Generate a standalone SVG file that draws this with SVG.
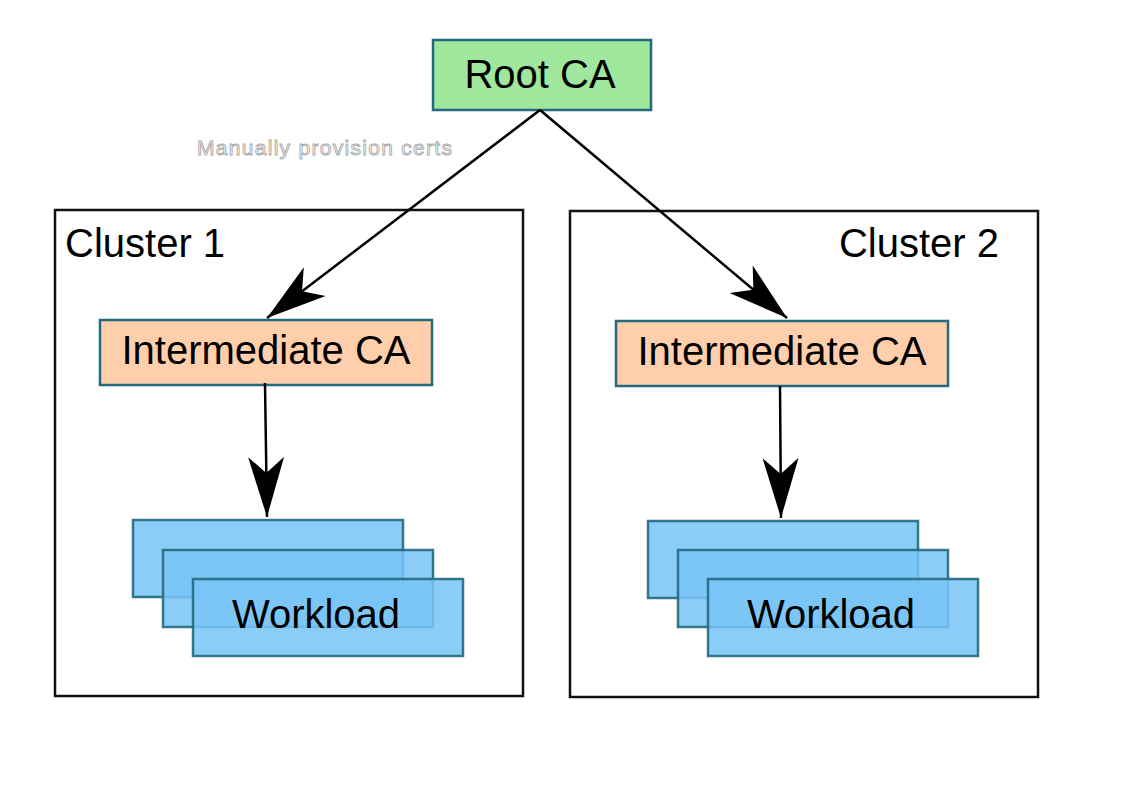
<svg xmlns="http://www.w3.org/2000/svg" width="1123" height="794" viewBox="0 0 1123 794">
  <style>
    .lbl { font-family: "Liberation Sans", Arial, sans-serif; font-size: 40px; fill: #000; }
    .cluster { fill: none; stroke: #111; stroke-width: 2.5; }
    .node { stroke: #23697f; stroke-width: 2.5; }
    .root { fill: #9fe79c; }
    .inter { fill: #ffcfab; }
    .work { fill: #78c4f7; fill-opacity: 0.85; stroke-opacity: 0.9; }
    .edge { fill: none; stroke: #000; stroke-width: 2.5; }
    .note { font-family: "Liberation Sans", Arial, sans-serif; font-size: 21px; fill: #fff; stroke: #a8a8a8; stroke-width: 0.9; }
  </style>
  <defs>
    <marker id="arrow" viewBox="-62 -20 64 40" markerWidth="64" markerHeight="40" refX="0" refY="0" orient="auto" markerUnits="userSpaceOnUse">
      <path d="M0,0 L-60,-18 L-44,0 L-60,18 Z" fill="#000"/>
    </marker>
  </defs>
  <rect width="1123" height="794" fill="#fff"/>

  <g id="cluster1">
    <rect class="cluster" x="55" y="210" width="468" height="486"/>
    <text class="lbl" x="65" y="257">Cluster 1</text>
  </g>
  <g id="cluster2">
    <rect class="cluster" x="570" y="211" width="468" height="486"/>
    <text class="lbl" x="999" y="257" text-anchor="end">Cluster 2</text>
  </g>

  <g id="root-ca">
    <rect class="node root" x="433" y="40" width="218" height="70"/>
    <text class="lbl" x="540" y="88" text-anchor="middle">Root CA</text>
  </g>

  <g id="intermediate-ca-1">
    <rect class="node inter" x="100" y="320" width="332" height="65"/>
    <text class="lbl" x="266" y="364" text-anchor="middle">Intermediate CA</text>
  </g>
  <g id="intermediate-ca-2">
    <rect class="node inter" x="616" y="321" width="332" height="65"/>
    <text class="lbl" x="782" y="365" text-anchor="middle">Intermediate CA</text>
  </g>

  <g id="workload-1">
    <rect class="node work" x="133" y="520" width="270" height="77"/>
    <rect class="node work" x="163" y="550" width="270" height="77"/>
    <rect class="node work" x="193" y="579" width="270" height="77"/>
    <text class="lbl" x="316" y="628" text-anchor="middle">Workload</text>
  </g>
  <g id="workload-2">
    <rect class="node work" x="648" y="521" width="270" height="77"/>
    <rect class="node work" x="678" y="550" width="270" height="77"/>
    <rect class="node work" x="708" y="579" width="270" height="77"/>
    <text class="lbl" x="831" y="628" text-anchor="middle">Workload</text>
  </g>

  <g id="connectors">
    <path class="edge" d="M540,110 L267,318" marker-end="url(#arrow)"/>
    <path class="edge" d="M540,110 L787,318" marker-end="url(#arrow)"/>
    <path class="edge" d="M265,383 L267,517" marker-end="url(#arrow)"/>
    <path class="edge" d="M780,386 L781,518" marker-end="url(#arrow)"/>
    <text class="note" x="197" y="155" textLength="255" lengthAdjust="spacing">Manually provision certs</text>
  </g>
</svg>
